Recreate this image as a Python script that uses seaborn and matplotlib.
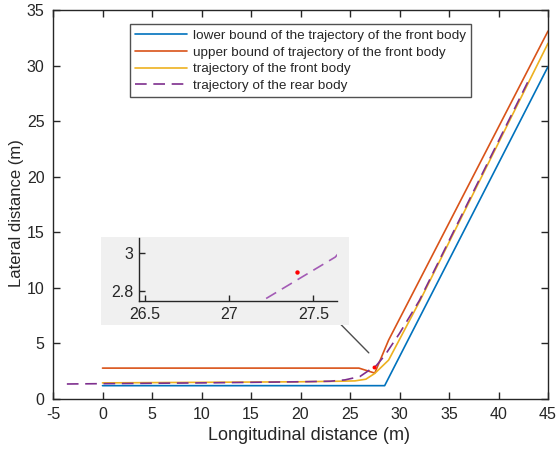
import numpy as np
import pandas as pd
import matplotlib
matplotlib.use("Agg")
import matplotlib.pyplot as plt
import seaborn as sns
from matplotlib.patches import Rectangle

# ---- data ----
lower_x = [0, 28.5, 45]
lower_y = [1.2, 1.2, 29.9]

upper_x = [0, 25.9, 27.5, 28.9, 45]
upper_y = [2.78, 2.78, 2.33, 5.3, 33.1]

front_x = [0, 10, 20, 24, 25.5, 26.6, 27.5, 28.9, 32.1, 45]
front_y = [1.45, 1.5, 1.55, 1.6, 1.63, 1.78, 2.3, 3.5, 8.9, 32.0]

rear_x = [-3.6, 0, 10, 20, 23, 24.5, 26.0, 27.2, 27.63, 28.5, 30.0, 32.0, 43.0]
rear_y = [1.35, 1.38, 1.45, 1.55, 1.6, 1.72, 2.02, 2.75, 2.98, 3.9, 5.9, 8.85, 28.6]

point_x = [27.4]
point_y = [2.9]

labels = ["lower bound of the trajectory of the front body",
          "upper bound of trajectory of the front body",
          "trajectory of the front body",
          "trajectory of the rear body"]
colors = ["#0072BD", "#D95319", "#EDB120", "#7E2F8E"]

xticks = [-5, 0, 5, 10, 15, 20, 25, 30, 35, 40, 45]
yticks = [0, 5, 10, 15, 20, 25, 30, 35]
inset_xticks = [26.5, 27, 27.5]
inset_yticks = [2.8, 3.0]
inset_yticklabels = ["2.8", "3"]

sns.set_style("ticks")
plt.rcParams["font.family"] = ["Liberation Sans", "DejaVu Sans"]

W, H = 556, 451
fig = plt.figure(figsize=(W / 100, H / 100), dpi=100)

def fx(px):
    return px / W

def fy(py):
    return 1 - py / H

ax = fig.add_axes([fx(53), fy(399), fx(548) - fx(53), fy(10) - fy(399)])

series = [(lower_x, lower_y), (upper_x, upper_y), (front_x, front_y)]
for (xs, ys), lab, c in zip(series, labels[:3], colors[:3]):
    df = pd.DataFrame({"x": xs, "y": ys})
    sns.lineplot(data=df, x="x", y="y", ax=ax, color=c, lw=1.2, label=lab,
                 sort=False, estimator=None)
df_r = pd.DataFrame({"x": rear_x, "y": rear_y})
sns.lineplot(data=df_r, x="x", y="y", ax=ax, color=colors[3], lw=1.2,
             label=labels[3], sort=False, estimator=None)
ax.lines[-1].set_dashes([7, 4])
sns.scatterplot(x=point_x, y=point_y, ax=ax, color="red", s=8, marker="o",
                linewidth=0, zorder=5)

ax.set_xlim(-5, 45)
ax.set_ylim(0, 35)
ax.set_xticks(xticks)
ax.set_yticks(yticks)
ax.set_xticklabels([str(t) for t in xticks])
ax.set_yticklabels([str(t) for t in yticks])
ax.tick_params(direction="in", length=5, width=1.0, top=True, right=True,
               labelsize=11.5, colors="#262626", pad=6)
for sp in ax.spines.values():
    sp.set_visible(True)
    sp.set_linewidth(1.0)
    sp.set_color("#262626")
ax.set_xlabel("Longitudinal distance (m)", fontsize=13, color="#262626")
ax.set_ylabel("Lateral distance (m)", fontsize=12, color="#262626")
ax.xaxis.set_label_coords((308.5 - 53) / 495, (399 - 426.5) / 389)
ax.yaxis.set_label_coords((24 - 53) / 495, (399 - 213) / 389)

leg = ax.legend(loc="upper left", bbox_to_anchor=((130 - 53) / 495, (399 - 24) / 389),
                borderaxespad=0, fontsize=9.7, frameon=True, fancybox=False,
                handlelength=3.8, handletextpad=0.45, labelspacing=0.32,
                borderpad=0.4)
leg.get_frame().set_edgecolor("#262626")
leg.get_frame().set_linewidth(1.0)
for t in leg.get_texts():
    t.set_color("#262626")

# gray background behind inset
fig.patches.append(Rectangle((fx(101), fy(325)), fx(349) - fx(101), fy(237) - fy(325),
                             transform=fig.transFigure, facecolor="#f0f0f0",
                             edgecolor="none", zorder=3))

axin = fig.add_axes([fx(139), fy(301), fx(337) - fx(139), fy(238) - fy(301)])
axin.set_zorder(4)
axin.patch.set_alpha(0)
sns.lineplot(data=df_r, x="x", y="y", ax=axin, color="#a35bb5", lw=1.2,
             sort=False, estimator=None)
axin.lines[-1].set_dashes([7, 4])
sns.scatterplot(x=point_x, y=point_y, ax=axin, color="red", s=10, marker="o",
                linewidth=0, zorder=5)
axin.set_xlim(26.464, 27.64)
axin.set_ylim(2.747, 3.081)
axin.set_xticks(inset_xticks)
axin.set_yticks(inset_yticks)
axin.set_xticklabels([str(t) for t in inset_xticks])
axin.set_yticklabels(inset_yticklabels)
axin.set_xlabel("")
axin.set_ylabel("")
axin.spines["top"].set_visible(False)
axin.spines["right"].set_visible(False)
for s in ["left", "bottom"]:
    axin.spines[s].set_linewidth(1.0)
    axin.spines[s].set_color("#262626")
axin.tick_params(direction="in", length=4, width=1.0, labelsize=11.5,
                 colors="#262626", pad=4)

ax.annotate("", xy=(23.2, 7.5), xytext=(26.9, 4.15),
            arrowprops=dict(arrowstyle="-|>", color="#4d4d4d", lw=1.0,
                            mutation_scale=10, shrinkA=0, shrinkB=0))

fig.savefig("out.png", dpi=100)
